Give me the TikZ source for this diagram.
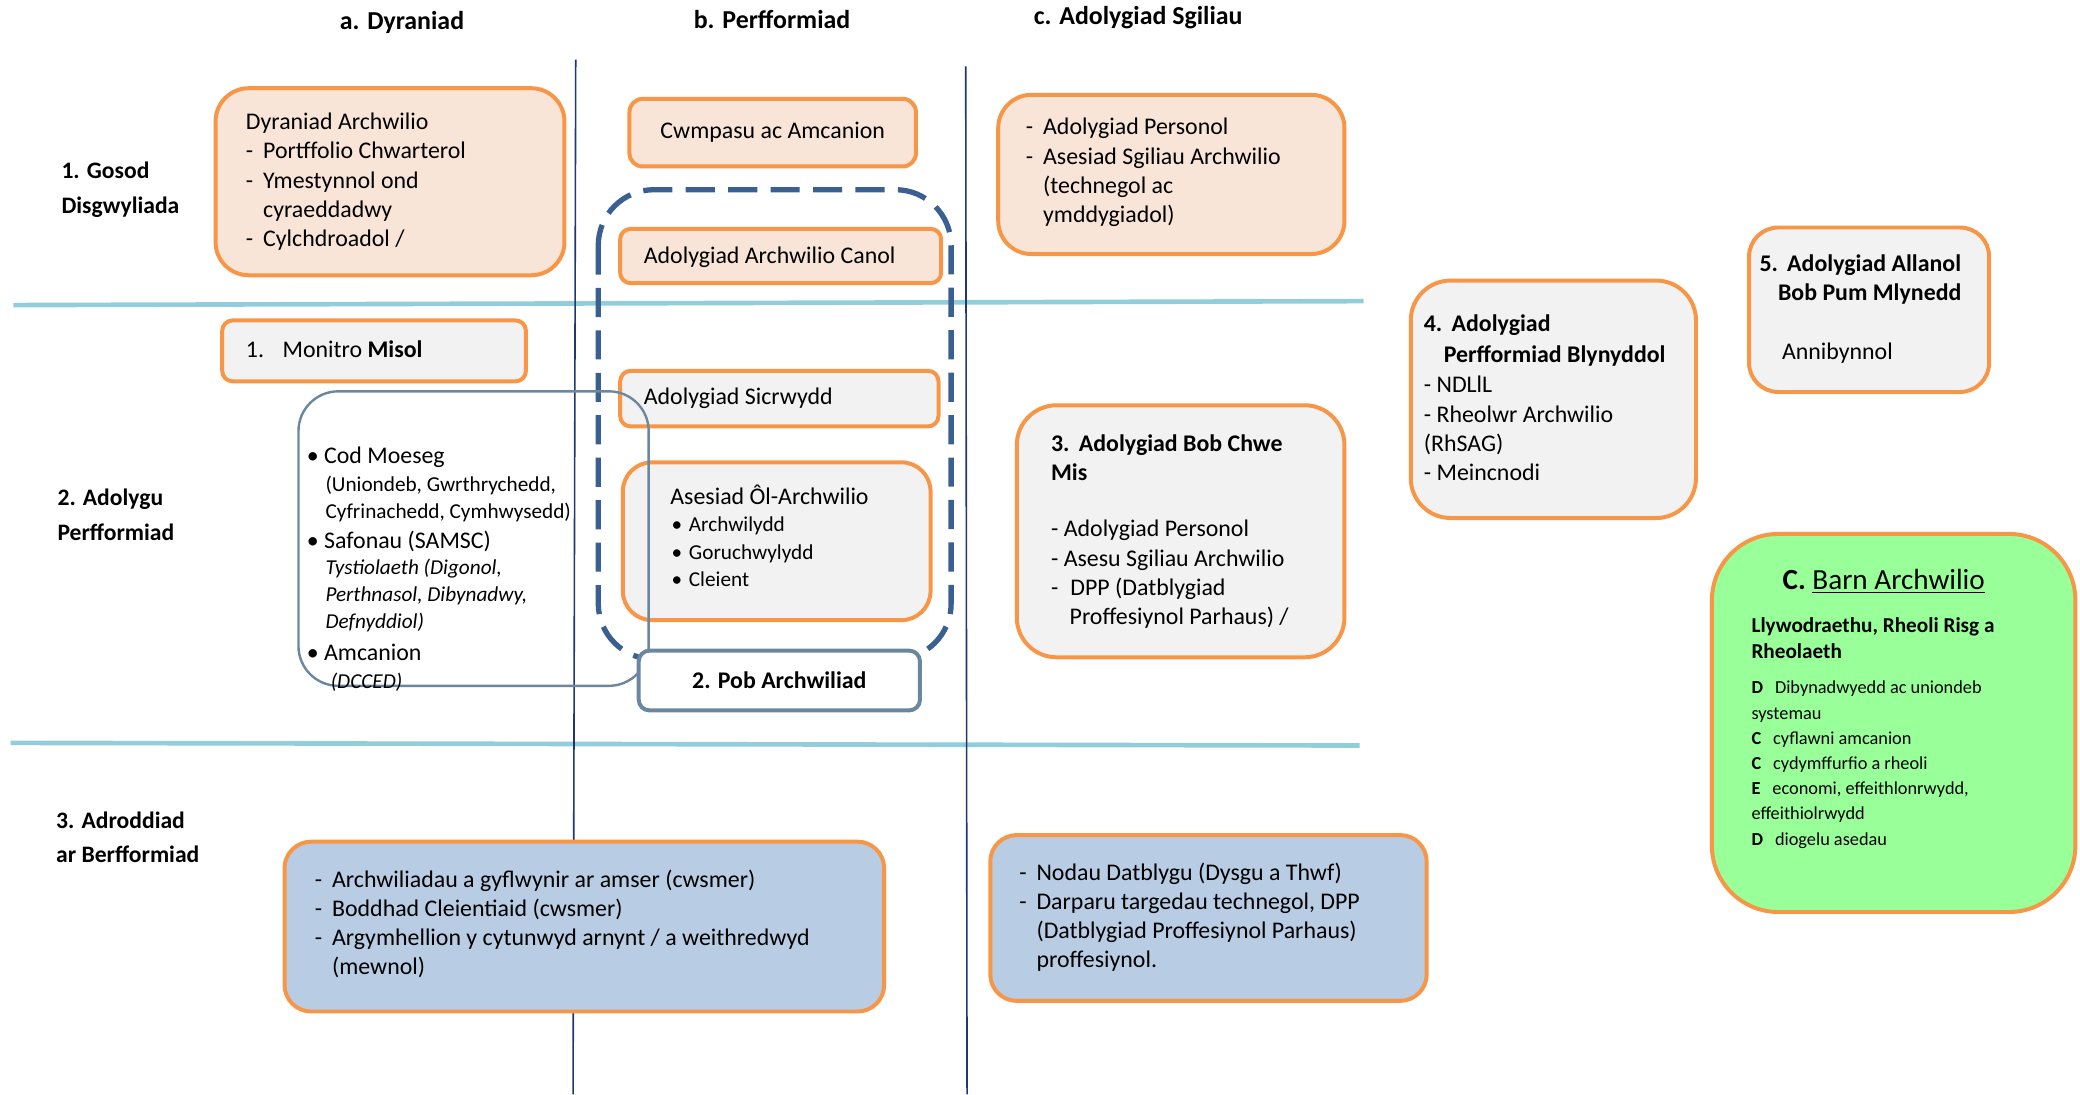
\documentclass[tikz,border=0pt]{standalone}
\usepackage{fontspec}
\setmainfont{Carlito}
\definecolor{orangeb}{RGB}{247,150,70}
\definecolor{peach}{RGB}{249,229,216}
\definecolor{greyf}{RGB}{242,242,242}
\definecolor{bluef}{RGB}{184,204,228}
\definecolor{greenf}{RGB}{153,255,153}
\definecolor{rowline}{RGB}{146,205,220}
\definecolor{colline}{RGB}{31,56,110}
\definecolor{dashb}{RGB}{58,95,145}
\definecolor{slate}{RGB}{107,135,160}
\newcommand{\dl}[1]{\makebox[13pt][l]{-}#1}
\newcommand{\ind}[1]{\hspace{13pt}#1}
\tikzset{every picture/.style={line width=0.75pt}}
\tikzset{
  obox/.style={draw=orangeb, line width=3pt, anchor=north west, inner sep=0pt},
  txt/.style={anchor=west, inner sep=0pt, align=left, font=\fontsize{18}{22}\selectfont},
  head/.style={anchor=center, inner sep=0pt, font=\fontsize{19.5}{22}\selectfont\bfseries},
  rowlab/.style={anchor=west, inner sep=0pt, align=left, font=\fontsize{17.8}{26}\selectfont\bfseries},
  small/.style={anchor=west, inner sep=0pt, align=left, font=\fontsize{16}{20.5}\selectfont}
}

\begin{document}
\begin{tikzpicture}[x=1pt,y=1pt,yscale=-1,xscale=1]
\useasboundingbox (0,0) rectangle (1568,825);

%Straight Lines
\draw [rowline, line width=3.5pt] (10,230) -- (1028,227) ;
\draw [rowline, line width=3.5pt] (8,560) -- (1025,562) ;
\draw [colline, line width=1.2pt] (434,45) -- (432,825) ;
\draw [colline, line width=1.2pt] (728,50) -- (729,825) ;

% Column heads
\node (ha) [head] at (303,17) {a. Dyraniad};
\node (hb) [head] at (582,15) {b. Perfformiad};
\node (hc) [head] at (858,13) {c. Adolygiad Sgiliau};

% Row labels
\node (r1) [rowlab] at (46,143) {1. Gosod\\Disgwyliada};
\node (r2) [rowlab] at (43,388) {2. Adolygu\\Perfformiad};
\node (r3) [rowlab] at (42,631) {3. Adroddiad\\ar Berfformiad};

%Shape: dashed group
\draw [dashb, line width=4pt, dash pattern={on 22pt off 10pt}, rounded corners=42pt] (451,143) rectangle (717,497) ;

% a. Dyraniad
\node (dyr) [obox, fill=peach, rounded corners=25pt, minimum width=263pt, minimum height=141pt] at (161,65) {};
\node (dyrt) [txt] at (185,137) {Dyraniad Archwilio\\\dl{Portffolio Chwarterol}\\\dl{Ymestynnol ond}\\\ind{cyraeddadwy}\\\dl{Cylchdroadol /}};
\node (mis) [obox, fill=greyf, rounded corners=8pt, minimum width=229pt, minimum height=46pt] at (166,240) {};
\node (mist) [txt] at (185,263) {1.\hspace{14pt}Monitro \textbf{Misol}};

% b. Perfformiad
\node (cwm) [obox, fill=peach, rounded corners=10pt, minimum width=216pt, minimum height=51pt] at (473,73) {};
\node (cwmt) [txt, anchor=center] at (cwm.center) {Cwmpasu ac Amcanion};
\node (can) [obox, fill=peach, rounded corners=8pt, minimum width=242pt, minimum height=41pt] at (466,171) {};
\node (cant) [txt] at (485,194) {Adolygiad Archwilio Canol};
\node (sic) [obox, fill=greyf, rounded corners=8pt, minimum width=240pt, minimum height=42pt] at (466,278) {};
\node (sict) [txt] at (485,300) {Adolygiad Sicrwydd};
\node (ase) [obox, fill=greyf, rounded corners=22pt, minimum width=232pt, minimum height=119pt] at (468,347) {};
\node (aset) [txt] at (505,373) {Asesiad Ôl-Archwilio};
\node (asel) [small, font=\fontsize{16}{21}\selectfont] at (506,416) {\textbullet\hspace{5pt}Archwilydd\\\textbullet\hspace{5pt}Goruchwylydd\\\textbullet\hspace{5pt}Cleient};

% Code box
\draw [slate, line width=1.8pt, rounded corners=30pt] (225,295) rectangle (489,517) ;
\node (cod) [txt] at (231,345) {\textbullet\hspace{4pt}Cod Moeseg};
\node (codl) [small] at (245,376) {(Uniondeb, Gwrthrychedd,\\Cyfrinachedd, Cymhwysedd)};
\node (saf) [txt] at (231,408) {\textbullet\hspace{4pt}Safonau (SAMSC)};
\node (tys) [small, font=\fontsize{16}{20.5}\selectfont\itshape] at (245,449) {Tystiolaeth (Digonol,\\Perthnasol, Dibynadwy,\\Defnyddiol)};
\node (amc) [txt] at (231,492) {\textbullet\hspace{4pt}Amcanion};
\node (dcc) [small, font=\fontsize{16}{20}\selectfont\itshape] at (249,514) {(DCCED)};

% 2. Pob Archwiliad
\node (pob) [draw=slate, line width=3pt, fill=white, rounded corners=8pt, anchor=north west, minimum width=212pt, minimum height=45pt, inner sep=0pt] at (480,489) {};
\node (pobt) [head, font=\fontsize{18}{20}\selectfont\bfseries] at (pob.center) {2. Pob Archwiliad};

% c. Adolygiad Sgiliau
\node (sgi) [obox, fill=peach, rounded corners=25pt, minimum width=261pt, minimum height=120pt] at (751,70) {};
\node (sgit) [txt] at (773,130) {\dl{Adolygiad Personol}\\\dl{Asesiad Sgiliau Archwilio}\\\ind{(technegol ac}\\\ind{ymddygiadol)}};
\node (chw) [obox, fill=greyf, rounded corners=30pt, minimum width=247pt, minimum height=190pt] at (765,304) {};
\node (chwt) [txt, font=\fontsize{18}{22}\selectfont\bfseries] at (792,345) {3.\hspace{7pt}Adolygiad Bob Chwe\\Mis};
\node (chwl) [txt] at (792,433) {- Adolygiad Personol\\- Asesu Sgiliau Archwilio\\-\hspace{9pt}DPP (Datblygiad\\\hspace{14pt}Proffesiynol Parhaus) /};

% 4 and 5
\node (bly) [obox, fill=greyf, rounded corners=30pt, minimum width=215pt, minimum height=179pt] at (1062,210) {};
\node (blyt) [txt, font=\fontsize{18}{23}\selectfont\bfseries] at (1073,256.5) {4.\hspace{7pt}Adolygiad\\\hspace{15pt}Perfformiad Blynyddol};
\node (blyl) [txt] at (1073,323) {- NDLlL\\- Rheolwr Archwilio\\(RhSAG)\\- Meincnodi};
\node (pum) [obox, fill=greyf, rounded corners=22pt, minimum width=181pt, minimum height=124pt] at (1317,170) {};
\node (pumt) [txt, font=\fontsize{18}{22}\selectfont\bfseries] at (1326,211) {5.\hspace{7pt}Adolygiad Allanol\\\hspace{14pt}Bob Pum Mlynedd};
\node (pumn) [txt] at (1343,266) {Annibynnol};

% C. Barn Archwilio
\node (barn) [obox, fill=greenf, rounded corners=50pt, minimum width=274pt, minimum height=285pt] at (1289,401) {};
\node (barnt) [head, font=\fontsize{22}{24}\selectfont] at (1420,438) {\textbf{C.} \underline{Barn Archwilio}};
\node (barns) [txt, font=\fontsize{16}{20}\selectfont\bfseries] at (1320,481) {Llywodraethu, Rheoli Risg a\\Rheolaeth};
\node (barnl) [txt, font=\fontsize{13.8}{19}\selectfont] at (1320,576.5) {\textbf{D}\hspace{9pt}Dibynadwyedd ac uniondeb\\systemau\\\textbf{C}\hspace{9pt}cyflawni amcanion\\\textbf{C}\hspace{9pt}cydymffurfio a rheoli\\\textbf{E}\hspace{9pt}economi, effeithlonrwydd,\\effeithiolrwydd\\\textbf{D}\hspace{9pt}diogelu asedau};

% 3. Adroddiad
\node (adr) [obox, fill=bluef, rounded corners=20pt, minimum width=452pt, minimum height=128pt] at (213,633) {};
\node (adrt) [txt] at (237,696.5) {\dl{Archwiliadau a gyflwynir ar amser (cwsmer)}\\\dl{Boddhad Cleientiaid (cwsmer)}\\\dl{Argymhellion y cytunwyd arnynt / a weithredwyd}\\\ind{(mewnol)}};
\node (nod) [obox, fill=bluef, rounded corners=20pt, minimum width=329pt, minimum height=125pt] at (745,628) {};
\node (nodt) [txt] at (768,691.5) {\dl{Nodau Datblygu (Dysgu a Thwf)}\\\dl{Darparu targedau technegol, DPP}\\\ind{(Datblygiad Proffesiynol Parhaus)}\\\ind{proffesiynol.}};

\end{tikzpicture}
\end{document}
